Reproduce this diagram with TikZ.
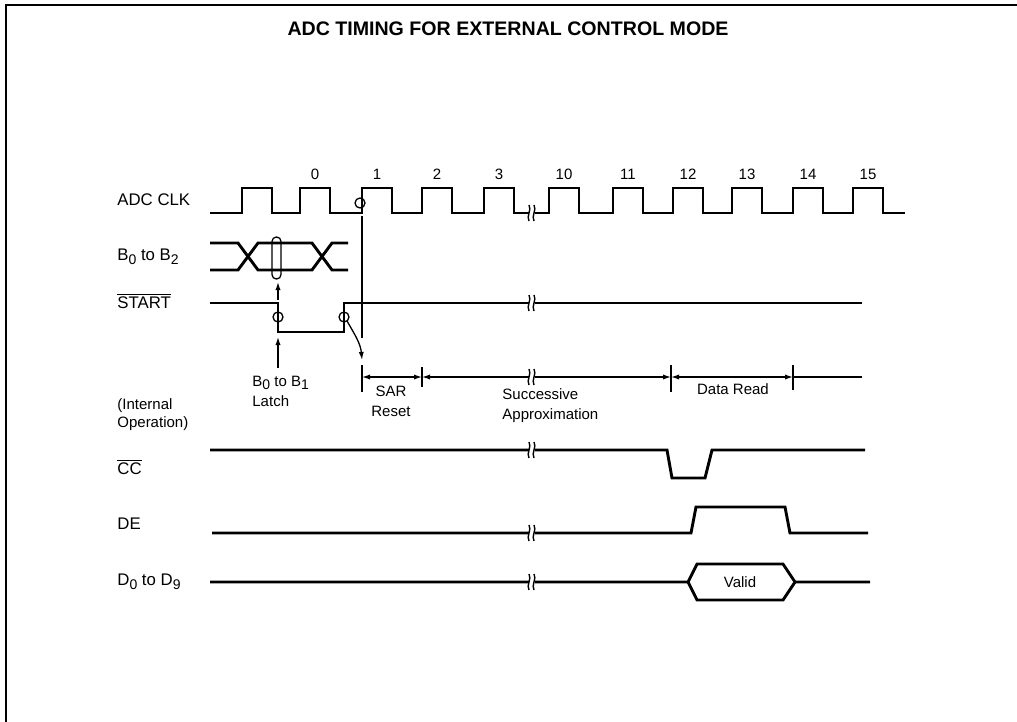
\documentclass[tikz,border=0pt]{standalone}
\usepackage{fontspec}
\setmainfont{Liberation Sans}
\usetikzlibrary{arrows.meta}

% break mark on a trace
\newcommand{\sigbrk}[2]{%
  \fill[white] (#1-3,#2-7) rectangle (#1+3,#2+7);
  \draw[line width=0.7pt] (#1-3,#2-8) .. controls (#1,#2-3) and (#1-6,#2+3) .. (#1-3,#2+8);
  \draw[line width=0.7pt] (#1+2,#2-8) .. controls (#1+5,#2-3) and (#1-1,#2+3) .. (#1+2,#2+8);}
\newcommand{\sub}[1]{\raisebox{-0.4ex}{\fontsize{7}{8}\selectfont #1}}

\begin{document}
\begin{tikzpicture}[x=0.5pt,y=-0.5pt,
    sig/.style={line width=1.45pt},
    fine/.style={line width=0.65pt},
    arr/.style={fine,-{Latex[length=4pt,width=2.6pt]}},
    dim/.style={fine,{Latex[length=4pt,width=2.6pt]}-{Latex[length=4pt,width=2.6pt]}},
    lbl/.style={font=\fontsize{7.5}{9}\selectfont,inner sep=0pt},
    signame/.style={font=\fontsize{8.4}{9}\selectfont,inner sep=0pt,anchor=west}]
  \useasboundingbox (0,0) rectangle (1017,722);
  \draw[line width=1pt] (6,722) -- (6,5) -- (1017,5);
  \node[font=\fontsize{9.8}{12}\selectfont\bfseries] (title) at (508,29) {ADC TIMING FOR EXTERNAL CONTROL MODE};

  % signal names
  \node[signame] (nclk) at (117,200) {ADC CLK};
  \node[signame] (nbus) at (117,257) {B\sub{0} to B\sub{2}};
  \node[signame] (nstart) at (117,301) {$\overline{\mbox{START}}$};
  \node[lbl,anchor=west,align=left] (nint) at (117,415) {(Internal\\ Operation)};
  \node[signame] (ncc) at (117,467) {$\overline{\mbox{CC}}$};
  \node[signame] (nde) at (117,524) {DE};
  \node[signame] (nd) at (117,582) {D\sub{0} to D\sub{9}};

  % clock
  \draw[sig] (210,213) foreach \r in {242,300,362,422,484,549,613,673,732,793,853}
    { -- (\r,213) -- (\r,188) -- (\r+30,188) -- (\r+30,213) } -- (905,213);
  \foreach \r/\n in {300/0,362/1,422/2,484/3,549/10,613/11,673/12,732/13,793/14,853/15}
    \node[lbl] (c\n) at (\r+15,174) {\n};
  \sigbrk{532}{213}
  \draw[fine] (360,203) circle[radius=2.5pt];
  \draw[fine] (362,216) -- (362,338);

  % address bus
  \draw[sig] (210,243) -- (238,243) -- (258,270) -- (312,270) -- (332,243) -- (348,243);
  \draw[sig] (210,270) -- (238,270) -- (258,243) -- (312,243) -- (332,270) -- (348,270);
  \draw[fine,rounded corners=2.2pt] (272,237) rectangle (281,279);
  \draw[arr] (278,300) -- (278,282);

  % start
  \draw[sig] (210,303) -- (278,303) -- (278,332) -- (344,332) -- (344,303) -- (862,303);
  \sigbrk{532}{303}
  \draw[fine] (278,317) circle[radius=2.5pt];
  \draw[fine] (344,317) circle[radius=2.5pt];
  \draw[arr] (278,368) -- (278,337);
  \draw[arr] (347,321) to[out=-60,in=95] (362,360);
  \node[lbl,anchor=west,align=left] (latch) at (252,391) {B\sub{0} to B\sub{1}\\[1pt]Latch};

  % internal operation
  \draw[fine] (362,365) -- (362,392);
  \draw[fine] (422,367) -- (422,387);
  \draw[fine] (671,365) -- (671,392);
  \draw[fine] (793,365) -- (793,390);
  \draw[dim] (362,377) -- (422,377);
  \draw[dim] (422,377) -- (671,377);
  \draw[dim] (671,377) -- (793,377);
  \draw[fine] (793,377) -- (862,377);
  \sigbrk{532}{377}
  \node[lbl,align=center] (sar) at (391,401) {SAR\\[1pt]Reset};
  \node[lbl,anchor=west,align=left] (sa) at (502,406) {Successive\\[1pt]Approximation};
  \node[lbl] (dr) at (733,389) {Data Read};

  % outputs
  \draw[sig] (210,450) -- (667,450) -- (672,478) -- (705,478) -- (712,450) -- (865,450);
  \sigbrk{532}{450}
  \draw[sig] (212,533) -- (691,533) -- (696,507) -- (785,507) -- (790,533) -- (868,533);
  \sigbrk{532}{533}
  \draw[sig] (210,582) -- (688,582) -- (697,564) -- (783,564) -- (795,582) -- (870,582);
  \draw[sig] (688,582) -- (697,600) -- (783,600) -- (795,582);
  \sigbrk{532}{582}
  \node[lbl] (valid) at (740,582) {Valid};
\end{tikzpicture}
\end{document}
